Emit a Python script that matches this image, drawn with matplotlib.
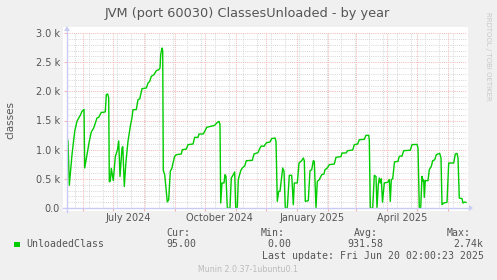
#!/usr/bin/env python3
"""plot.py - Munin style yearly graph of unloaded JVM classes."""

import matplotlib
matplotlib.use("Agg")
import matplotlib.pyplot as plt
import matplotlib.dates as mdates
import matplotlib.ticker as mticker
import pandas as pd
from matplotlib.lines import Line2D
from matplotlib.patches import Polygon, Rectangle

W, H = 497, 280

# ─── Data ────────────────────────────────────────────────────────────────────

END = pd.Timestamp("2025-06-20 02:00:23")
START = END - pd.Timedelta(days=400)

# days since START, classes unloaded
days = [
    0.0, 1.0, 2.3, 5.0, 7.7, 10.0, 11.7, 13.3, 15.0, 17.0, 17.7, 20.0, 22.3,
    24.3, 26.7, 28.3, 30.0, 31.7, 34.3, 36.7, 38.3, 39.3, 40.7, 41.7, 42.3,
    43.3, 44.3, 46.3, 48.3, 50.5, 51.7, 53.0, 55.0, 55.8, 57.3, 59.0, 61.0,
    63.3, 65.0, 66.0, 69.3, 71.0, 72.7, 75.0, 79.3, 81.0, 82.7, 84.3, 87.0,
    89.3, 91.7, 93.0, 93.7, 95.0, 95.7, 96.3, 97.7, 100.3, 101.7, 103.3,
    105.0, 106.0, 107.7, 109.3, 114.3, 115.3, 119.3, 121.0, 126.0, 127.7,
    131.0, 132.0, 136.3, 137.7, 139.7, 145.3, 147.7, 149.7, 152.0, 153.0,
    153.7, 155.0, 157.0, 158.0, 159.0, 160.3, 163.0, 164.3, 166.3, 167.7,
    168.7, 170.3, 171.3, 173.7, 175.3, 177.7, 179.3, 185.3, 187.0, 191.0,
    193.0, 194.3, 197.0, 198.0, 199.7, 203.0, 204.7, 208.0, 209.0, 210.3,
    211.7, 213.0, 215.7, 217.0, 218.3, 220.3, 222.3, 224.7, 226.3, 227.3,
    230.3, 232.0, 234.7, 236.3, 237.3, 238.3, 241.3, 243.0, 244.7, 246.3,
    247.3, 249.0, 250.3, 252.3, 254.7, 257.0, 258.0, 260.3, 262.3, 267.3,
    269.0, 274.0, 275.0, 279.0, 280.7, 285.7, 287.3, 290.7, 292.3, 297.3,
    299.0, 301.7, 302.3, 303.3, 305.7, 307.3, 309.0, 310.0, 311.3, 312.3,
    313.3, 314.3, 315.5, 317.3, 320.7, 322.3, 323.3, 324.3, 325.7, 327.5,
    331.0, 332.3, 335.0, 336.7, 343.3, 345.0, 350.0, 351.0, 352.3, 353.7,
    355.0, 356.0, 356.7, 357.3, 358.3, 361.0, 362.3, 364.3, 365.7, 367.7,
    369.3, 371.0, 372.7, 374.0, 375.0, 376.7, 380.0, 381.7, 386.7, 388.3,
    390.0, 391.0, 392.3, 395.0, 396.0, 397.7, 399.0,
]
unloaded = [
    1190, 1150, 390, 914, 1314, 1486, 1543, 1589, 1657, 1690, 686, 914, 1143,
    1303, 1371, 1457, 1543, 1554, 1640, 1640, 1650, 1943, 1954, 1886, 450,
    460, 680, 470, 880, 1000, 1150, 540, 1030, 1050, 370, 800, 1143,
    1400, 1550, 1686, 1686, 1857, 1870, 2046, 2057, 2143, 2170, 2257, 2286,
    2354, 2371, 2400, 2629, 2743, 2700, 640, 571, 105, 140, 629,
    686, 771, 886, 914, 926, 1000, 1010, 1086, 1097, 1211,
    1211, 1269, 1269, 1314, 1383, 1406, 1417, 1457, 1486, 1430,
    86, 429, 429, 571, 543, 0, 0, 514, 571, 617,
    0, 0, 486, 640, 686, 720, 811, 817, 926, 949,
    1029, 1063, 1057, 1086, 1120, 1131, 1189, 1200, 1143, 114,
    286, 286, 686, 629, 0, 0, 560, 560, 57, 429,
    429, 771, 811, 857, 811, 114, 126, 640, 657, 811,
    800, 0, 457, 486, 571, 583, 657, 686, 743, 754,
    869, 880, 943, 943, 983, 994, 1086, 1097, 1171, 1177,
    1246, 1246, 1171, 0, 0, 560, 540, 0, 400, 514,
    430, 500, 100, 430, 440, 490, 114, 486, 500, 790,
    800, 886, 890, 983, 990, 1086, 1090, 1030, 0, 0,
    543, 460, 480, 183, 469, 469, 657, 714, 811, 826,
    914, 926, 937, 857, 57, 86, 97, 771, 771, 926,
    937, 857, 171, 160, 86, 103, 95,
]

ytick_values = [0, 500, 1000, 1500, 2000, 2500, 3000]
ytick_labels = ["0.0", "0.5 k", "1.0 k", "1.5 k", "2.0 k", "2.5 k", "3.0 k"]
label_months = ["2024-07-01", "2024-10-01", "2025-01-01", "2025-04-01"]
month_labels = ["July 2024", "October 2024", "January 2025", "April 2025"]

series_name = "UnloadedClass"
stat_cur, stat_min, stat_avg, stat_max = "95.00", "0.00", "931.58", "2.74k"

TITLE = "JVM (port 60030) ClassesUnloaded - by year"

GREEN = "#00CC00"
TEXT = "#555555"
MGRID = "#F4B4B4"
GRID = "#D6D6D6"
AXIS = "#C8CCF4"


def fx(x):
    return x / W


def fy(y):
    return 1 - y / H


fig = plt.figure(figsize=(W / 100, H / 100), dpi=100, facecolor="#F0F0F0")

# white canvas behind the graph area
fig.patches.append(Rectangle((fx(63), fy(211)), (468 - 63) / W, (211 - 27) / H,
                             transform=fig.transFigure, facecolor="white",
                             edgecolor="none", zorder=-5))

ax = fig.add_axes([fx(67), fy(208), 400 / W, 175 / H])
ax.set_facecolor("white")
ax.set_xlim(START, END)
ax.set_ylim(0, 3000)
for s in ax.spines.values():
    s.set_visible(False)

# grid
dots = (0, (1, 1.2))
for v in range(100, 3001, 100):
    major = v % 500 == 0
    ax.axhline(v, color=MGRID if major else GRID, lw=0.7, ls=dots,
               zorder=1 if major else 0.5)
for d in pd.date_range("2024-05-10", END, freq="14D"):
    if d > START:
        ax.axvline(d, color=GRID, lw=0.7, ls=dots, zorder=0.5)
for d in pd.date_range(START.normalize(), END, freq="MS"):
    if d > START:
        ax.axvline(d, color=MGRID, lw=0.7, ls=dots, zorder=1)

times = START + pd.to_timedelta(days, unit="D")
ax.plot(times, unloaded, color=GREEN, lw=1.0, zorder=3)

# ticks
ax.xaxis.set_major_locator(mdates.MonthLocator())
ax.xaxis.set_major_formatter(mticker.NullFormatter())
label_pos = pd.to_datetime(label_months) + pd.Timedelta(days=15)
ax.xaxis.set_minor_locator(mticker.FixedLocator(mdates.date2num(label_pos)))
ax.xaxis.set_minor_formatter(mticker.FixedFormatter(month_labels))
ax.tick_params(axis="x", which="major", length=2, color=MGRID)
ax.tick_params(axis="x", which="minor", length=0, pad=3.5,
               labelsize=7, labelcolor=TEXT)
ax.set_yticks(ytick_values, ytick_labels)
ax.tick_params(axis="y", which="major", length=2, color=MGRID, pad=3,
               labelsize=7, labelcolor=TEXT)

# axes with arrows
fig.add_artist(Line2D([fx(63), fx(469)], [fy(208), fy(208)], color=AXIS, lw=1))
fig.add_artist(Line2D([fx(67), fx(67)], [fy(212), fy(30)], color=AXIS, lw=1))
fig.patches.append(Polygon([(fx(469), fy(205)), (fx(473), fy(208)), (fx(469), fy(211))],
                           closed=True, transform=fig.transFigure,
                           facecolor=AXIS, edgecolor="none"))
fig.patches.append(Polygon([(fx(64), fy(31)), (fx(67), fy(26)), (fx(70), fy(31))],
                           closed=True, transform=fig.transFigure,
                           facecolor=AXIS, edgecolor="none"))

# texts
fig.text(fx(247.5), fy(14), TITLE, ha="center", va="center",
         fontsize=9.3, color=TEXT)
fig.text(fx(10), fy(120), "classes", rotation=90, ha="center", va="center",
         fontsize=7.5, color=TEXT)
fig.text(fx(488), fy(56), "RRDTOOL / TOBI OETIKER", rotation=270,
         ha="center", va="center", fontsize=5, color="#C8C8C8")

mono = dict(family="DejaVu Sans Mono", fontsize=7.1, color=TEXT,
            va="center", ha="left")
fig.patches.append(Rectangle((fx(14), fy(247)), 6 / W, 5 / H,
                             transform=fig.transFigure, facecolor=GREEN,
                             edgecolor="none"))
fig.text(fx(26), fy(244.3), series_name, **mono)
fig.text(fx(166.7), fy(233.3), "Cur:", **mono)
fig.text(fx(166.7), fy(244.3), stat_cur, **mono)
fig.text(fx(260.7), fy(233.3), "Min:", **mono)
fig.text(fx(267.3), fy(244.3), stat_min, **mono)
fig.text(fx(354), fy(233.3), "Avg:", **mono)
fig.text(fx(347.7), fy(244.3), stat_avg, **mono)
fig.text(fx(446.7), fy(233.3), "Max:", **mono)
fig.text(fx(453.3), fy(244.3), stat_max, **mono)
fig.text(fx(261.7), fy(256), "Last update: Fri Jun 20 02:00:23 2025", **mono)
fig.text(fx(248), fy(269.3), "Munin 2.0.37-1ubuntu0.1", ha="center",
         va="center", fontsize=5.7, color="#BBBBBB")

fig.savefig("out.png", dpi=100, facecolor=fig.get_facecolor())
print("Saved: out.png")
